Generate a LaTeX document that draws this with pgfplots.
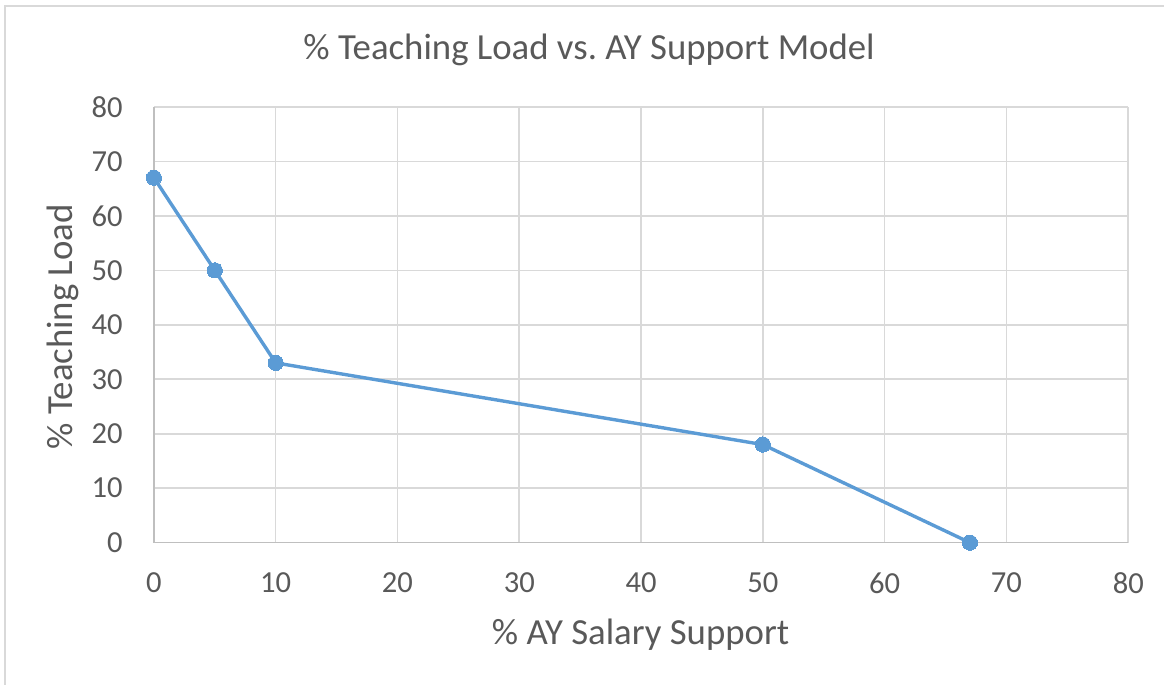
\documentclass[border=0pt]{standalone}
\usepackage{fontspec}
\setmainfont{Carlito}
\usepackage{pgfplots}
\pgfplotsset{compat=1.18}
\definecolor{linecol}{HTML}{5B9BD5}
\definecolor{txtcol}{HTML}{595959}
\definecolor{gridcol}{HTML}{D9D9D9}
\definecolor{axcol}{HTML}{BFBFBF}
\begin{document}
\begin{tikzpicture}
\begin{axis}[
  scale only axis,
  width=487.5pt, height=218pt,
  xmin=0, xmax=80, ymin=0, ymax=80,
  xtick={0,10,...,80}, ytick={0,10,...,80},
  axis lines*=left,
  axis line style={draw=axcol, line width=0.8pt, -},
  grid=major,
  major grid style={draw=gridcol, line width=0.8pt},
  major tick length=0pt,
  clip=false,
  /pgf/number format/assume math mode=true,
  tick label style={font=\fontsize{15.3}{18}\selectfont, text=txtcol, inner sep=0pt},
  xticklabel style={anchor=north, yshift=-15pt},
  yticklabel style={anchor=east, xshift=-15.5pt},
  title={\% Teaching Load vs.\ AY Support Model},
  title style={at={(rel axis cs:0.4467,1.0803)}, anchor=base, yshift=0pt, font=\fontsize{18.4}{22}\selectfont, text=txtcol, inner sep=0pt},
  xlabel={\% AY Salary Support},
  xlabel style={at={(rel axis cs:0.4995,-0.2339)}, anchor=base, font=\fontsize{18.4}{22}\selectfont, text=txtcol, inner sep=0pt},
  ylabel={\% Teaching Load},
  ylabel style={at={(rel axis cs:-0.0831,0.495)}, anchor=base, rotate=0, font=\fontsize{18.4}{22}\selectfont, text=txtcol, inner sep=0pt},
]
\path (rel axis cs:-0.15795,-0.32569) rectangle (rel axis cs:1.03692,1.24541);
\draw[gridcol, line width=0.75pt] (rel axis cs:-0.15282,-0.32569) -- (rel axis cs:-0.15282,1.23165) -- (rel axis cs:1.03692,1.23165);
\addplot[color=linecol, line width=1.7pt, mark=*, mark size=3.8pt, mark options={fill=linecol, draw=linecol, line width=0pt}]
  coordinates {(0,67) (5,50) (10,33) (50,18) (67,0)};
\end{axis}
\end{tikzpicture}
\end{document}
